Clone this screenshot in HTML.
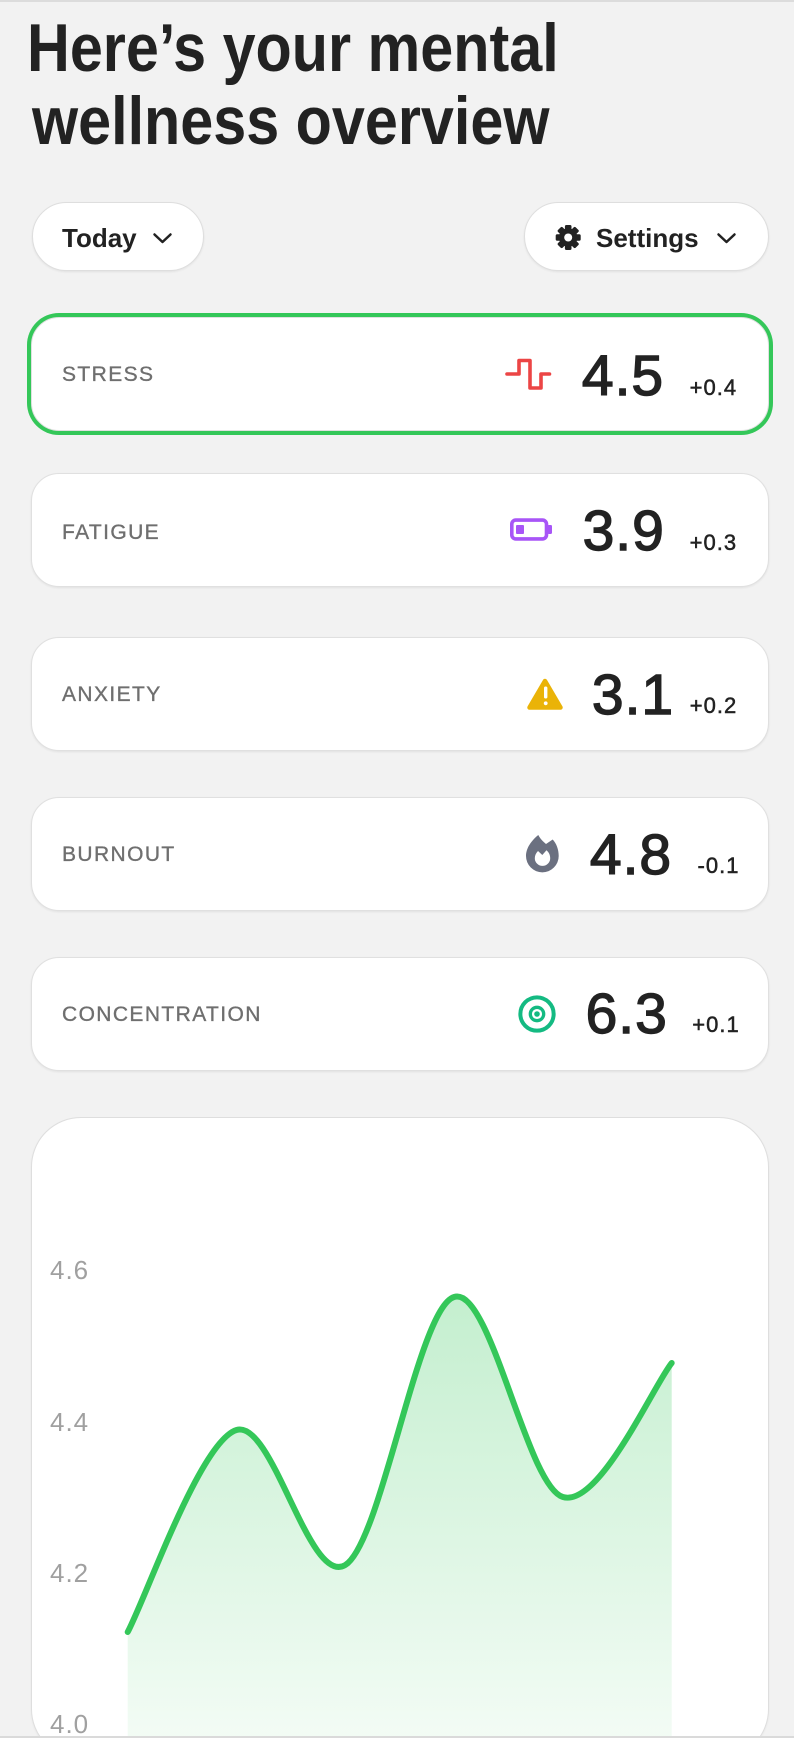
<!DOCTYPE html>
<html>
<head>
<meta charset="utf-8">
<style>
  html, body { margin:0; padding:0; width:794px; height:1738px; overflow:hidden; background:#f2f2f2; }
  #root {
    position:relative; width:794px; height:1738px; overflow:hidden;
    background:#f2f2f2;
    font-family:"Liberation Sans", Arial, sans-serif;
    color:#222;
  }
  .abs { position:absolute; white-space:nowrap; line-height:1; }
  .topline { position:absolute; left:0; top:0; width:794px; height:2px; background:#dcdcdc; }
  .botline { position:absolute; left:0; top:1736px; width:794px; height:2px; background:#dadada; z-index:5; }
  .title { font-weight:bold; font-size:68px; transform:scaleX(0.872); transform-origin:0 0; color:#222; }
  .pill {
    position:absolute; top:202px; height:67px; border-radius:35px; background:#fff;
    border:1px solid #dedede; box-shadow:0 1px 2px rgba(0,0,0,0.07);
  }
  .btxt { font-size:26px; font-weight:bold; color:#222; }
  .card {
    position:absolute; left:31px; width:736px; height:112px; background:#fff;
    border:1px solid #e0e0e0; border-radius:28px; box-shadow:0 1px 2px rgba(0,0,0,0.07);
  }
  .card.sel { box-shadow:0 0 0 4px #34c759; }
  .lbl { font-size:21px; letter-spacing:1.4px; color:#6f6f6f; -webkit-text-stroke:0.35px #6f6f6f; left:62px; }
  .val { font-size:57px; width:140px; text-align:center; color:#222; -webkit-text-stroke:1.4px #222; letter-spacing:1px; }
  .dlt { font-size:22px; width:80px; text-align:center; color:#222; -webkit-text-stroke:0.5px #222; letter-spacing:1px; }
  .chart {
    position:absolute; left:31px; top:1117px; width:736px; height:640px; background:#fff;
    border:1px solid #dedede; border-radius:50px; box-shadow:0 1px 2px rgba(0,0,0,0.05);
  }
  .ylab { font-size:26px; color:#a0a0a0; left:50px; letter-spacing:1px; }
  svg.ov { position:absolute; left:0; top:0; width:794px; height:1738px; z-index:3; pointer-events:none; }
  .txt { z-index:4; }
</style>
</head>
<body>
<div id="root">
<div class="topline"></div>

<div class="abs title" style="left:27.4px; top:14.1px;">Here’s your mental</div>
<div class="abs title" style="left:31.7px; top:87.4px;">wellness overview</div>

<div class="pill" style="left:32px; width:170px;"></div>
<div class="abs btxt txt" style="left:62px; top:224.7px;">Today</div>

<div class="pill" style="left:524px; width:243px;"></div>
<div class="abs btxt txt" style="left:596px; top:224.7px;">Settings</div>

<!-- cards -->
<div class="card sel" style="top:317px;"></div>
<div class="card" style="top:473px;"></div>
<div class="card" style="top:637px;"></div>
<div class="card" style="top:797px;"></div>
<div class="card" style="top:957px;"></div>

<div class="abs lbl txt" style="top:364.2px;">STRESS</div>
<div class="abs lbl txt" style="top:521.5px;">FATIGUE</div>
<div class="abs lbl txt" style="top:684.2px;">ANXIETY</div>
<div class="abs lbl txt" style="top:844.2px;">BURNOUT</div>
<div class="abs lbl txt" style="top:1004.2px;">CONCENTRATION</div>

<div class="abs val txt" style="left:553px; top:347.75px;">4.5</div>
<div class="abs val txt" style="left:553.7px; top:503.45px;">3.9</div>
<div class="abs val txt" style="left:563px; top:666.75px;">3.1</div>
<div class="abs val txt" style="left:561px; top:826.75px;">4.8</div>
<div class="abs val txt" style="left:556.7px; top:986.05px;">6.3</div>

<div class="abs dlt txt" style="left:673.4px; top:377.1px;">+0.4</div>
<div class="abs dlt txt" style="left:673.4px; top:532.1px;">+0.3</div>
<div class="abs dlt txt" style="left:673.5px; top:695.4px;">+0.2</div>
<div class="abs dlt txt" style="left:678.5px; top:855.4px;">-0.1</div>
<div class="abs dlt txt" style="left:676px; top:1014.4px;">+0.1</div>

<!-- chart card -->
<div class="chart"></div>
<div class="abs ylab txt" style="top:1257px;">4.6</div>
<div class="abs ylab txt" style="top:1408.7px;">4.4</div>
<div class="abs ylab txt" style="top:1559.7px;">4.2</div>
<div class="abs ylab txt" style="top:1711px;">4.0</div>

<svg class="ov" viewBox="0 0 794 1738" xmlns="http://www.w3.org/2000/svg">
  <defs>
    <linearGradient id="fillg" gradientUnits="userSpaceOnUse" x1="0" y1="1296" x2="0" y2="1730">
      <stop offset="0" stop-color="#34c759" stop-opacity="0.29"/>
      <stop offset="1" stop-color="#34c759" stop-opacity="0.065"/>
    </linearGradient>
  </defs>

  <!-- chevrons -->
  <path d="M154.5 234.5 L162.5 242 L170.5 234.5" fill="none" stroke="#222" stroke-width="2.5" stroke-linecap="round" stroke-linejoin="round"/>
  <path d="M718.5 234.5 L726.5 242 L734.5 234.5" fill="none" stroke="#222" stroke-width="2.5" stroke-linecap="round" stroke-linejoin="round"/>

  <!-- gear -->
  <g transform="translate(568.2 237.5)" fill="#222">
    <circle r="9.2"/>
    <rect x="-3.3" y="-12.5" width="6.6" height="25" rx="1.5"/>
    <rect x="-3.3" y="-12.5" width="6.6" height="25" rx="1.5" transform="rotate(45)"/>
    <rect x="-3.3" y="-12.5" width="6.6" height="25" rx="1.5" transform="rotate(90)"/>
    <rect x="-3.3" y="-12.5" width="6.6" height="25" rx="1.5" transform="rotate(135)"/>
    <circle r="4" fill="#fff"/>
  </g>

  <!-- stress pulse -->
  <path d="M507 374 H519 V360.5 H530 V388 H541 V374 H549.5" fill="none" stroke="#ec4545" stroke-width="3.6" stroke-linecap="round" stroke-linejoin="round"/>

  <!-- battery -->
  <rect x="511.8" y="520.1" width="34.7" height="18.8" rx="4" fill="none" stroke="#a855f7" stroke-width="3.6"/>
  <rect x="547.5" y="525" width="4.5" height="9" rx="1.2" fill="#a855f7"/>
  <rect x="516" y="525" width="8" height="9" rx="1" fill="#a855f7"/>

  <!-- warning -->
  <path d="M545 681 L529.5 707.5 L560.5 707.5 Z" fill="#eab308" stroke="#eab308" stroke-width="4.5" stroke-linejoin="round"/>
  <rect x="544" y="686.5" width="3.4" height="12" rx="1.6" fill="#fff"/>
  <circle cx="545.7" cy="703.3" r="1.9" fill="#fff"/>

  <!-- flame -->
  <path d="M538.3 835 C540 838.5 543 841.5 546 844 L552.7 839.5 C556.5 843.5 558.7 849.5 558.7 856 A16.35 16.35 0 1 1 526 856 C526 848 531.5 840.5 538.3 835 Z" fill="#6b7080"/>
  <path d="M538 851 L542.3 855 L546.5 850.3 C549 852.5 550.2 855.2 550.2 858.2 A7.7 7.7 0 1 1 534.8 858.2 C534.8 855.5 536 853 538 851 Z" fill="#fff"/>

  <!-- target -->
  <circle cx="537" cy="1014" r="16.65" fill="none" stroke="#14ba82" stroke-width="4"/>
  <circle cx="537" cy="1014" r="6.7" fill="none" stroke="#14ba82" stroke-width="3.3"/>
  <circle cx="537" cy="1014" r="2.8" fill="#14ba82"/>

  <!-- chart -->
  <path d="M127.7,1632 C145.83,1598.33 200.23,1441.17 236.5,1430 C272.77,1418.83 309.03,1587.17 345.3,1565 C381.57,1542.83 417.83,1308.33 454.1,1297 C490.37,1285.67 526.63,1486 562.9,1497 C599.17,1508 653.57,1385.33 671.7,1363 L671.7,1738 L127.7,1738 Z" fill="url(#fillg)"/>
  <path d="M127.7,1632 C145.83,1598.33 200.23,1441.17 236.5,1430 C272.77,1418.83 309.03,1587.17 345.3,1565 C381.57,1542.83 417.83,1308.33 454.1,1297 C490.37,1285.67 526.63,1486 562.9,1497 C599.17,1508 653.57,1385.33 671.7,1363" fill="none" stroke="#34c759" stroke-width="6" stroke-linecap="round" stroke-linejoin="round"/>
</svg>

<div class="botline"></div>
</div>
</body>
</html>
